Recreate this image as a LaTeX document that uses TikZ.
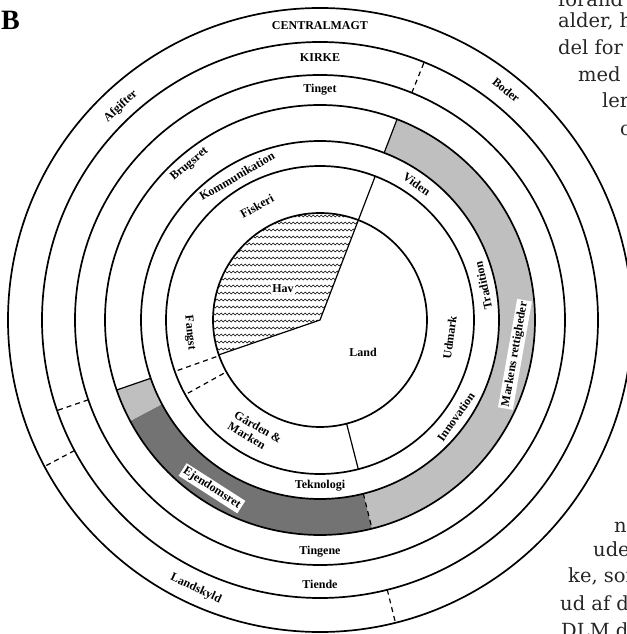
\documentclass[tikz,border=0pt]{standalone}
\usepackage{fontspec}
\setmainfont{Liberation Serif}
\newfontfamily\pagefont{DejaVu Serif}
\usetikzlibrary{decorations.pathmorphing}

\begin{document}
\begin{tikzpicture}[x=1pt,y=1pt,
    ring/.style={line width=1.7pt},
    spoke/.style={line width=1.2pt},
    dashspoke/.style={line width=1.2pt, dash pattern=on 5pt off 4pt},
    lbl/.style={font=\fontsize{12}{13}\selectfont\bfseries, inner sep=1pt},
    boxlbl/.style={lbl, fill=white, inner sep=2pt},
    wave/.style={line width=0.6pt, decorate,
      decoration={snake, amplitude=0.9pt, segment length=4pt}},
    lightdots/.style={fill=black!25},
    darkdots/.style={fill=black!55},
    pagetext/.style={font=\pagefont\fontsize{19.5}{20}\selectfont,
      anchor=base west, inner sep=0pt, text=black!85}]
  \useasboundingbox (-320,-314) rectangle (306,320);
  \def\Hav{107}
  % shaded band
  \fill[lightdots] (69:179) arc[start angle=69, end angle=-76, radius=179]
    -- (-76:215) arc[start angle=-76, end angle=69, radius=215] -- cycle;
  \fill[darkdots] (-76:179) arc[start angle=-76, end angle=-152, radius=179]
    -- (-152:215) arc[start angle=-152, end angle=-76, radius=215] -- cycle;
  \fill[lightdots] (-152:179) arc[start angle=-152, end angle=-161, radius=179]
    -- (-161:215) arc[start angle=-161, end angle=-152, radius=215] -- cycle;
  % sea
  \begin{scope}
    \clip (0,0) -- (69:\Hav) arc[start angle=69, end angle=199, radius=\Hav] -- cycle;
    \foreach \y in {-36,-29,...,108}
      \draw[wave] (-112,\y) -- (40,\y);
  \end{scope}
  \draw[spoke] (199:\Hav) -- (0,0) -- (69:\Hav);
  \foreach \r in {107,154,179,215,245,278,312}
    \draw[ring] (0,0) circle[radius=\r];
  \draw[spoke]
    (69:\Hav) -- (69:154)
    (69:179) -- (69:215)
    (-161:179) -- (-161:215)
    (-75.6:\Hav) -- (-75.6:154);
  \draw[dashspoke]
    (-76:179) -- (-76:215)
    (68:245) -- (68:278)
    (-76:278) -- (-76:312)
    (-152:278) -- (-152:312)
    (-161:245) -- (-161:278)
    (-160.5:110) -- (-160.5:152)
    (-151:110) -- (-151:152);
  % labels
  \node[lbl] (centralmagt) at (90:294) {CENTRALMAGT};
  \node[lbl] (kirke) at (90:262) {KIRKE};
  \node[lbl] (tinget) at (90:230) {Tinget};
  \node[lbl, rotate=43] (afgifter) at (133:292) {Afgifter};
  \node[lbl, rotate=-39] (boder) at (51:296) {Boder};
  \node[lbl, rotate=40] (brugsret) at (130:203) {Brugsret};
  \node[lbl, rotate=30] (kommunikation) at (120:166) {Kommunikation};
  \node[lbl, rotate=29] (fiskeri) at (119:130) {Fiskeri};
  \node[lbl, rotate=-35.4] (viden) at (54.6:167) {Viden};
  \node[lbl, rotate=102] (tradition) at (12:167) {Tradition};
  \node[lbl, rotate=82] (udmark) at (-7.7:131) {Udmark};
  \node[boxlbl, rotate=80] (markens) at (-10:198) {Markens rettigheder};
  \node[lbl, rotate=54.5] (innovation) at (-35.5:167) {Innovation};
  \node[lbl] (land) at (43,-32) {Land};
  \node[lbl, fill=white] (hav) at (-37,31) {Hav};
  \node[lbl, rotate=-84.4] (fangst) at (185.6:131) {Fangst};
  \node[lbl, rotate=-30, align=left] (garden) at (240:130) {Gården \&\\Marken};
  \node[lbl] (teknologi) at (-90:166) {Teknologi};
  \node[boxlbl, rotate=-32.7] (ejendomsret) at (237.3:200) {Ejendomsret};
  \node[lbl] (tingene) at (-90:232) {Tingene};
  \node[lbl] (tiende) at (-90:264) {Tiende};
  \node[lbl, rotate=-25] (landskyld) at (245.2:296) {Landskyld};
  \node[font=\fontsize{28}{30}\selectfont\bfseries, anchor=base west, inner sep=0pt]
    (figB) at (-319,290) {B};
  % page text
  \foreach \x/\y/\t [count=\i] in {238/313/forand, 238/292/{alder, h},
      238/265/del for, 258/238/med, 282/212/ler, 300/184/c,
      294/-212/n, 273/-236/ude, 248/-262/{ke, som}, 240/-290/ud af d,
      241/-317/DLM d}
    \node[pagetext] (pg\i) at (\x,\y) {\t};
\end{tikzpicture}
\end{document}
